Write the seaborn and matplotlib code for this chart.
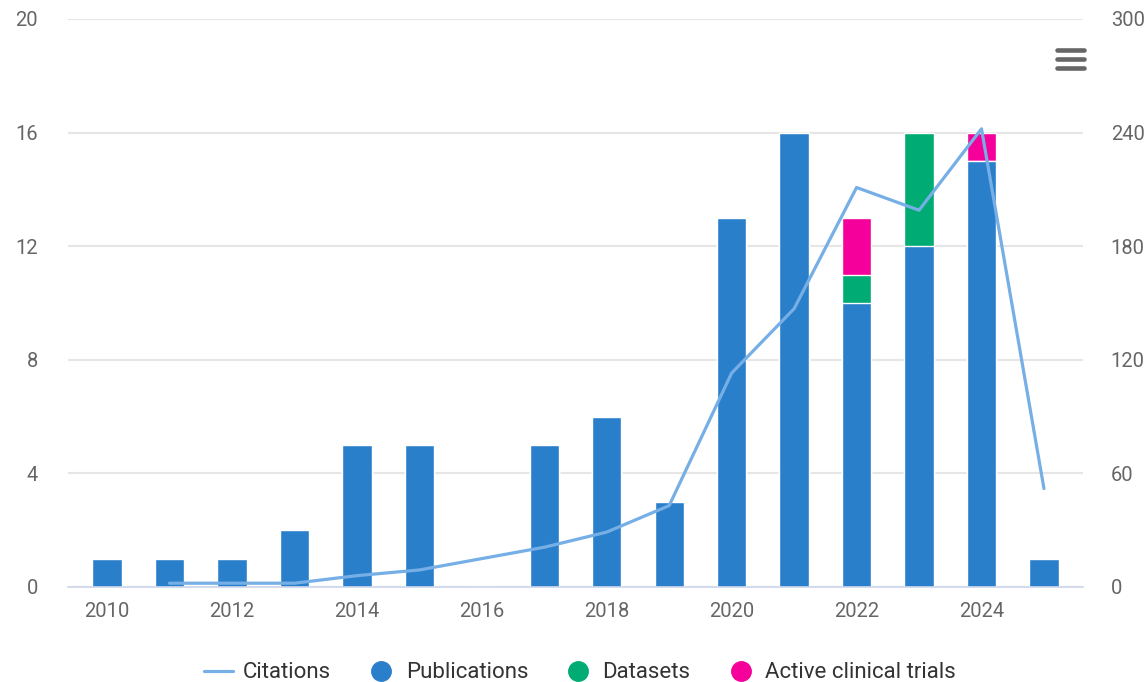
import numpy as np
import pandas as pd
import matplotlib
matplotlib.use("Agg")
import matplotlib.pyplot as plt
from matplotlib.lines import Line2D
import seaborn as sns

years = [2010, 2011, 2012, 2013, 2014, 2015, 2016, 2017, 2018, 2019, 2020, 2021, 2022, 2023, 2024, 2025]
publications = [1, 1, 1, 2, 5, 5, 0, 5, 6, 3, 13, 16, 10, 12, 15, 1]
datasets = [0, 0, 0, 0, 0, 0, 0, 0, 0, 0, 0, 0, 1, 4, 0, 0]
trials = [0, 0, 0, 0, 0, 0, 0, 0, 0, 0, 0, 0, 2, 0, 1, 0]
cit_years = [2011, 2012, 2013, 2014, 2015, 2016, 2017, 2018, 2019, 2020, 2021, 2022, 2023, 2024, 2025]
citations = [2, 2, 2, 6, 9, 15, 21, 29, 43, 113, 147, 211, 199, 242, 52]
left_ticks = [0, 4, 8, 12, 16, 20]
right_ticks = [0, 60, 120, 180, 240, 300]
xtick_years = [2010, 2012, 2014, 2016, 2018, 2020, 2022, 2024]

C_PUB = "#2a7fcb"
C_DATA = "#00ab74"
C_TRIAL = "#f5009a"
C_LINE = "#76aee6"
C_TEXT = "#666666"
C_GRID = "#e6e6e6"

sns.set_theme(style="white")
plt.rcParams["font.family"] = ["Roboto", "DejaVu Sans"]

df = pd.DataFrame({"year": years, "pub": publications, "data": datasets, "trial": trials})
df["pd"] = df["pub"] + df["data"]
df["total"] = df["pd"] + df["trial"]
cdf = pd.DataFrame({"year": cit_years, "cit": citations})

fig = plt.figure(figsize=(11.45, 6.82), dpi=100)
ax = fig.add_axes([68 / 1145, 1 - 587 / 682, (1083 - 68) / 1145, (587 - 19) / 682])

for col, color in [("total", C_TRIAL), ("pd", C_DATA), ("pub", C_PUB)]:
    sns.barplot(data=df, x="year", y=col, native_scale=True, width=0.47,
                color=color, saturation=1, edgecolor="white", linewidth=1.0,
                ax=ax, zorder=2, errorbar=None)

ax.set_xlim(2009.375, 2025.625)
ax.set_ylim(0, 20)
ax.set_yticks(left_ticks)
ax.set_xticks(xtick_years)
ax.set_xticklabels([str(y) for y in xtick_years])
ax.grid(axis="y", color=C_GRID, linewidth=1.5, zorder=0)
ax.grid(axis="x", visible=False)
ax.set_axisbelow(True)
for s in ["top", "left", "right"]:
    ax.spines[s].set_visible(False)
ax.spines["bottom"].set_color("#ccd6eb")
ax.spines["bottom"].set_linewidth(1.2)
ax.tick_params(axis="x", length=0, pad=11, labelsize=14.5, labelcolor=C_TEXT)
ax.tick_params(axis="y", length=0, pad=21.6, labelsize=14.5, labelcolor=C_TEXT)
ax.set_xlabel("")
ax.set_ylabel("")

ax2 = ax.twinx()
sns.lineplot(data=cdf, x="year", y="cit", color=C_LINE, linewidth=2.3, ax=ax2, zorder=5)
ax2.set_ylim(0, 300)
ax2.set_yticks(right_ticks)
ax2.tick_params(axis="y", length=0, pad=20, labelsize=14.5, labelcolor=C_TEXT)
for lab in ax2.get_yticklabels():
    lab.set_horizontalalignment("left")
ax2.set_ylabel("")
ax2.set_xlabel("")
for s in ["top", "left", "right", "bottom"]:
    ax2.spines[s].set_visible(False)
ax2.grid(False)
ax2.set_xlim(2009.375, 2025.625)

for lab in ax.get_yticklabels():
    lab.set_horizontalalignment("right")

# hamburger menu icon
for yy in [50, 59, 68]:
    fig.add_artist(Line2D([1057 / 1145, 1084 / 1145], [1 - yy / 682, 1 - yy / 682],
                          color="#666666", linewidth=3.3, solid_capstyle="round"))

handles = [
    Line2D([0], [0], color=C_LINE, linewidth=2.3),
    Line2D([0], [0], marker="o", color="none", markerfacecolor=C_PUB, markeredgecolor=C_PUB, markersize=14),
    Line2D([0], [0], marker="o", color="none", markerfacecolor=C_DATA, markeredgecolor=C_DATA, markersize=14),
    Line2D([0], [0], marker="o", color="none", markerfacecolor=C_TRIAL, markeredgecolor=C_TRIAL, markersize=14),
]
labels = ["Citations", "Publications", "Datasets", "Active clinical trials"]
fig.legend(handles, labels, loc="center", bbox_to_anchor=(580 / 1145, 1 - 673 / 682),
           ncol=4, frameon=False, fontsize=16, labelcolor="#333333",
           handlelength=1.3, handletextpad=0.45, columnspacing=1.6)

fig.savefig("out.png", dpi=100)
